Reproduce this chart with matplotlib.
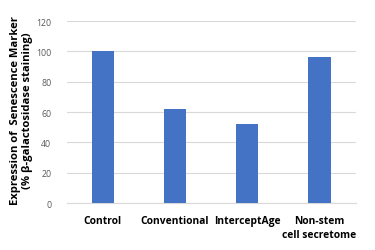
import numpy as np
import matplotlib.pyplot as plt

# データ
categories = ["Control", "Conventional", "InterceptAge", "Non-stem\ncell secretome"]
values = [100, 62, 52, 96]
yticks = [0, 20, 40, 60, 80, 100, 120]

plt.rcParams['font.family'] = ['Open Sans', 'DejaVu Sans']

fig = plt.figure(figsize=(3.75, 2.51), dpi=100)
ax = fig.add_axes([0.178, 0.187, 0.77, 0.725])

x = np.arange(len(categories))
ax.bar(x, values, width=0.31, color="#4472C4", zorder=3)

ax.set_xlim(-0.5, len(categories) - 0.5)
ax.set_ylim(0, 120)
ax.set_yticks(yticks)
ax.tick_params(axis="y", labelsize=6.3, colors="#595959", length=0, pad=11)
ax.set_xticks(x)
ax.set_xticklabels(categories, fontsize=7.4, fontweight="bold", linespacing=1.35)
ax.tick_params(axis="x", length=0, pad=8.5)

ax.grid(axis="y", color="#D9D9D9", linewidth=0.8, zorder=0)
for s in ["top", "right", "left"]:
    ax.spines[s].set_visible(False)
ax.spines["bottom"].set_color("#D9D9D9")

# 縦軸ラベル
fig.text(0.058, 0.56, "Expression of  Senescence Marker\n(% β-galactosidase staining)",
         fontsize=8.1, fontweight="bold", linespacing=1.15,
         rotation=90, ha="center", va="center")

fig.savefig("out.png", dpi=100)
